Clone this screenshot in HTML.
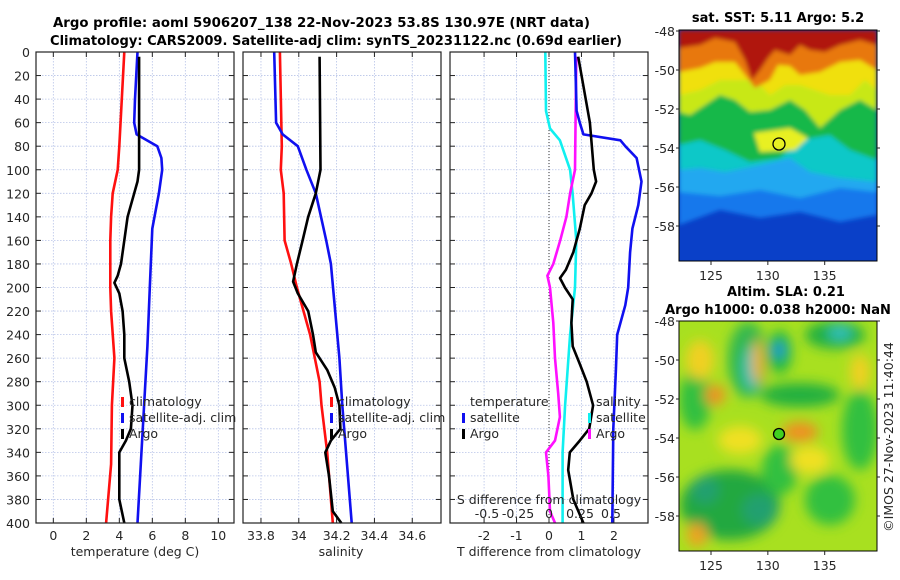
<!DOCTYPE html>
<html><head><meta charset="utf-8"><style>
body{margin:0;background:#fff;}
svg{display:block;font-family:"DejaVu Sans","Liberation Sans",sans-serif;}
.t{font-size:12.5px;fill:#262626;}
.b{font-size:13px;font-weight:bold;fill:#000;}
</style></head><body>
<svg id="fig" width="900" height="580" viewBox="0 0 900 580" xmlns="http://www.w3.org/2000/svg">
<defs>
<filter id="bl" x="-10%" y="-10%" width="120%" height="120%"><feGaussianBlur stdDeviation="2"/></filter>
<filter id="bl2" x="-20%" y="-20%" width="140%" height="140%"><feGaussianBlur stdDeviation="6"/></filter>
<clipPath id="c1"><rect x="679" y="30" width="198" height="231"/></clipPath>
<clipPath id="c2"><rect x="679" y="321" width="198" height="230"/></clipPath>
</defs>
<text class="b" x="53" y="27" textLength="537" lengthAdjust="spacingAndGlyphs">Argo profile: aoml 5906207_138 22-Nov-2023 53.8S 130.97E (NRT data)</text>
<text class="b" x="50" y="45" textLength="572" lengthAdjust="spacingAndGlyphs">Climatology: CARS2009. Satellite-adj clim: synTS_20231122.nc (0.69d earlier)</text>
<g id="panels"></g>

<!-- SST map -->
<text class="b" x="778" y="22" text-anchor="middle">sat. SST: 5.11 Argo: 5.2</text>
<g clip-path="url(#c1)">
<rect x="679" y="30" width="198" height="231" fill="#0a40c8"/>
<g filter="url(#bl)">
<path d="M679 30H877V215L840 222L800 212L760 218L720 210L679 225Z" fill="#1478ec"/>
<path d="M679 30H877V192L840 188L800 198L760 190L720 196L679 192Z" fill="#20a8f0"/>
<path d="M679 30H877V182L840 178L810 172L790 158L760 165L725 172L700 168L679 170Z" fill="#10c8c8"/>
<path d="M679 30H877V160L850 150L830 135L800 140L780 158L750 162L725 150L700 140L679 145Z" fill="#18b848"/>
<path d="M679 30H877V110L860 100L840 110L820 128L805 110L790 100L770 110L750 112L735 100L720 95L705 105L690 115L679 112Z" fill="#c8e818"/>
<path d="M679 30H877V90L865 80L850 95L830 95L815 90L800 85L785 85L770 95L755 80L740 80L720 80L700 90L679 95Z" fill="#f0e010"/>
<path d="M754 133L790 128L808 138L795 150L760 152Z" fill="#e8f020"/>
<path d="M679 30H877V70L860 60L840 62L820 72L800 75L790 66L778 65L770 80L755 88L745 75L735 62L715 62L700 68L679 72Z" fill="#e87810"/>
<path d="M679 30H877V45L860 40L840 45L825 52L810 50L800 45L790 55L775 50L768 58L760 70L752 80L745 60L735 42L715 38L700 45L679 48Z" fill="#b01808"/>
</g>
<circle cx="779" cy="144" r="6" fill="none" stroke="#000" stroke-width="1.3"/>
</g>
<rect x="679" y="30" width="198" height="231" fill="none" stroke="#000" stroke-width="1"/>
<g id="map1axes"></g>

<!-- SLA map -->
<text class="b" x="786" y="296" text-anchor="middle">Altim. SLA: 0.21</text>
<text class="b" x="778" y="314" text-anchor="middle">Argo h1000: 0.038 h2000: NaN</text>
<g clip-path="url(#c2)">
<rect x="679" y="321" width="198" height="230" fill="#a8e020"/>
<g filter="url(#bl2)">
<ellipse cx="748" cy="360" rx="20" ry="38" fill="#30b850"/>
<ellipse cx="752" cy="368" rx="9" ry="22" fill="#30c0c0"/>
<ellipse cx="780" cy="352" rx="12" ry="22" fill="#20b840"/>
<ellipse cx="779" cy="350" rx="6" ry="8" fill="#2090e0"/>
<ellipse cx="835" cy="335" rx="30" ry="14" fill="#20b040"/>
<ellipse cx="840" cy="333" rx="12" ry="7" fill="#30c0c0"/>
<ellipse cx="800" cy="395" rx="40" ry="12" fill="#20b040"/>
<ellipse cx="695" cy="400" rx="16" ry="30" fill="#30c040"/>
<ellipse cx="860" cy="430" rx="18" ry="40" fill="#30c040"/>
<ellipse cx="730" cy="505" rx="50" ry="35" fill="#20a840"/>
<ellipse cx="760" cy="510" rx="18" ry="16" fill="#20a070"/>
<ellipse cx="705" cy="490" rx="14" ry="14" fill="#20a070"/>
<ellipse cx="830" cy="500" rx="25" ry="25" fill="#30c040"/>
<ellipse cx="780" cy="470" rx="18" ry="25" fill="#30c040"/>
<ellipse cx="700" cy="360" rx="14" ry="20" fill="#f0d020"/>
<ellipse cx="715" cy="395" rx="10" ry="10" fill="#f09020"/>
<ellipse cx="758" cy="362" rx="6" ry="22" fill="#f0b020"/>
<ellipse cx="800" cy="432" rx="18" ry="10" fill="#f09020"/>
<ellipse cx="697" cy="535" rx="10" ry="12" fill="#f0a020"/>
<ellipse cx="810" cy="460" rx="20" ry="14" fill="#f0e020"/>
<ellipse cx="740" cy="440" rx="22" ry="14" fill="#f0e020"/>
<ellipse cx="860" cy="372" rx="10" ry="18" fill="#f0d020"/>
</g>
<circle cx="779" cy="434" r="5.5" fill="#40d020" stroke="#000" stroke-width="1.3"/>
</g>
<rect x="679" y="321" width="198" height="230" fill="none" stroke="#000" stroke-width="1"/>
<g id="map2axes"></g>
<text class="t" transform="translate(893,437) rotate(-90)" text-anchor="middle">©IMOS 27-Nov-2023 11:40:44</text>
</svg>
<script>
// ---- data ----
const tClimDepth=[0,40,80,100,120,140,160,200,220,260,300,350,400];
const tClimVal=[4.3,4.15,4.0,3.9,3.6,3.5,3.45,3.45,3.5,3.7,3.55,3.5,3.2];
const tSatDepth=[0,40,60,70,80,90,100,120,150,200,250,300,350,400];
const tSatVal=[5.1,4.95,4.9,5.05,6.3,6.55,6.6,6.4,6.0,5.85,5.7,5.5,5.3,5.1];
const tArgoDepth=[4,60,100,110,120,140,160,180,190,196,205,220,240,260,280,300,320,330,340,360,380,400];
const tArgoVal=[5.2,5.2,5.2,5.1,4.9,4.5,4.3,4.1,3.9,3.7,4.0,4.2,4.3,4.3,4.6,4.8,4.7,4.4,4.0,4.0,4.0,4.3];
const sClimDepth=[0,80,100,120,160,180,200,240,280,300,340,400];
const sClimVal=[33.90,33.91,33.905,33.92,33.925,33.96,33.99,34.06,34.11,34.12,34.15,34.18];
const sSatDepth=[0,60,70,80,100,120,160,180,260,300,400];
const sSatVal=[33.87,33.88,33.915,33.995,34.04,34.09,34.145,34.17,34.215,34.23,34.28];
const sArgoDepth=[4,100,120,140,160,180,195,205,220,240,255,270,285,300,320,330,340,360,390,400];
const sArgoVal=[34.11,34.115,34.09,34.05,34.02,33.99,33.97,33.995,34.05,34.075,34.09,34.15,34.19,34.215,34.22,34.17,34.14,34.16,34.18,34.225];
const dTSatDepth=[0,50,60,70,75,80,90,110,130,150,170,200,215,240,270,320,400];
const dTSatVal=[0.8,0.85,0.95,1.06,2.2,2.35,2.7,2.85,2.75,2.57,2.5,2.44,2.35,2.1,2.06,1.98,1.95];
const dTArgoDepth=[4,60,100,110,120,130,150,170,185,192,200,210,230,250,265,280,300,320,330,340,355,380,400];
const dTArgoVal=[0.9,1.26,1.38,1.45,1.31,1.1,0.95,0.75,0.52,0.34,0.49,0.73,0.69,0.73,0.95,1.16,1.36,1.24,0.95,0.64,0.59,0.75,1.06];
const dSSatDepth=[0,50,65,75,100,120,160,200,240,300,340,400];
const dSSatVal=[-0.03,-0.024,0.008,0.088,0.17,0.19,0.22,0.21,0.17,0.13,0.11,0.11];
const dSArgoDepth=[4,100,120,140,160,180,190,200,230,260,290,310,330,340,360,390,400];
const dSArgoVal=[0.22,0.21,0.17,0.14,0.09,0.035,-0.013,0.008,0.035,0.048,0.074,0.088,0.048,-0.024,-0.005,0.008,0.048];
const depthTicks=[0,20,40,60,80,100,120,140,160,180,200,220,240,260,280,300,320,340,360,380,400];
const tTicks=[0,2,4,6,8,10];
const sTicks=[33.8,34,34.2,34.4,34.6];
const sTickLabels=["33.8","34","34.2","34.4","34.6"];
const dTTicks=[-2,-1,0,1,2];
const dSTicks=[-0.5,-0.25,0,0.25,0.5];
const dSTickLabels=["-0.5","-0.25","0","0.25","0.5"];
const lonTicks=[125,130,135];
const latTicks=[-48,-50,-52,-54,-56,-58];

const NS="http://www.w3.org/2000/svg";
const g=document.getElementById('panels');
function mk(tag,attrs,parent){const e=document.createElementNS(NS,tag);for(const k in attrs)e.setAttribute(k,attrs[k]);(parent||g).appendChild(e);return e;}
const Y0=52,Y1=523;
const yS=d=>Y0+d*(Y1-Y0)/400;
const panels=[
 {x0:36,x1:234,lo:-1.05,hi:10.95,name:'temperature-panel'},
 {x0:243,x1:441,lo:33.705,hi:34.752,name:'salinity-panel'},
 {x0:450,x1:648,lo:-3.05,hi:3.05,name:'difference-panel'}];
function xf(p){return v=>p.x0+(v-p.lo)/(p.hi-p.lo)*(p.x1-p.x0);}
const xT=xf(panels[0]),xS=xf(panels[1]),xD=xf(panels[2]);
const xDS=v=>xD(0)+v*(xD(1)-xD(0))*3.82;

function grid(p,xs,ticks){
 ticks.forEach(v=>{const l=mk('line',{x1:xs(v),x2:xs(v),y1:Y0,y2:Y1,stroke:'#b8c4e8','stroke-width':0.8,'stroke-dasharray':'1.5,1.5'});
 
 });
 depthTicks.forEach(d=>{const l=mk('line',{x1:p.x0,x2:p.x1,y1:yS(d),y2:yS(d),stroke:'#b8c4e8','stroke-width':0.8,'stroke-dasharray':'1.5,1.5'});
 
 
 mk('line',{x1:p.x0,x2:p.x0+5,y1:yS(d),y2:yS(d),stroke:'#222'});
 mk('line',{x1:p.x1,x2:p.x1-5,y1:yS(d),y2:yS(d),stroke:'#222'});});
 ticks.forEach(v=>{mk('line',{x1:xs(v),x2:xs(v),y1:Y1,y2:Y1-5,stroke:'#222'});mk('line',{x1:xs(v),x2:xs(v),y1:Y0,y2:Y0+5,stroke:'#222'});});
}
function frame(p){const r=mk('rect',{x:p.x0,y:Y0,width:p.x1-p.x0,height:Y1-Y0,fill:'none',stroke:'#222','stroke-width':1.2});
 
 }
function line(xs,D,V,color,name){
 const pts=D.map((d,i)=>xs(V[i]).toFixed(1)+','+yS(d).toFixed(1)).join(' ');
 const l=mk('polyline',{points:pts,fill:'none',stroke:color,'stroke-width':2.6,'stroke-linejoin':'round'});
 
 }
function txt(x,y,s,anchor,name,extra){const t=mk('text',Object.assign({x:x,y:y,'class':'t','text-anchor':anchor||'middle'},extra||{}));t.textContent=s;
 
 return t;}

grid(panels[0],xT,tTicks);grid(panels[1],xS,sTicks);grid(panels[2],xD,dTTicks);
mk('line',{x1:xD(0),x2:xD(0),y1:Y0,y2:Y1,stroke:'#333','stroke-width':1,'stroke-dasharray':'1,2'});

line(xT,tClimDepth,tClimVal,'#ff1010','temp-climatology-line');
line(xT,tSatDepth,tSatVal,'#1010f0','temp-satellite-line');
line(xT,tArgoDepth,tArgoVal,'#000','temp-argo-line');
line(xS,sClimDepth,sClimVal,'#ff1010','sal-climatology-line');
line(xS,sSatDepth,sSatVal,'#1010f0','sal-satellite-line');
line(xS,sArgoDepth,sArgoVal,'#000','sal-argo-line');
line(xDS,dSSatDepth,dSSatVal,'#10f0f0','sdiff-satellite-line');
line(xDS,dSArgoDepth,dSArgoVal,'#ff10ff','sdiff-argo-line');
line(xD,dTSatDepth,dTSatVal,'#1010f0','tdiff-satellite-line');
line(xD,dTArgoDepth,dTArgoVal,'#000','tdiff-argo-line');
panels.forEach(frame);

depthTicks.forEach(d=>txt(30,yS(d)+5,String(d),'end','depth-tick-label'));
tTicks.forEach(v=>txt(xT(v),Y1+17,String(v),'middle','temp-tick-label'));
sTicks.forEach((v,i)=>txt(xS(v),Y1+17,sTickLabels[i],'middle','sal-tick-label'));
dTTicks.forEach(v=>txt(xD(v),Y1+17,String(v),'middle','tdiff-tick-label'));
dSTicks.forEach((v,i)=>txt(xDS(v),518,dSTickLabels[i],'middle','sdiff-tick-label'));
txt(135,556,'temperature (deg C)','middle','temp-axis-title');
txt(341,556,'salinity','middle','sal-axis-title');
txt(549,556,'T difference from climatology','middle','tdiff-axis-title');
txt(549,504,'S difference from climatology','middle','sdiff-axis-title');

function legend(x,y,color,label,name){
 mk('rect',{x:x,y:y-9,width:3,height:10,fill:color});
 txt(x+8,y,label,'start',name);}
legend(121,406,'#ff1010','climatology','legend-climatology');
legend(121,422,'#1010f0','satellite-adj. clim','legend-satellite');
legend(121,438,'#000','Argo','legend-argo');
legend(330,406,'#ff1010','climatology','legend-climatology-sal');
legend(330,422,'#1010f0','satellite-adj. clim','legend-satellite-sal');
legend(330,438,'#000','Argo','legend-argo-sal');
txt(470,406,'temperature','start','legend-temperature-header');
legend(462,422,'#1010f0','satellite','legend-tdiff-satellite');
legend(462,438,'#000','Argo','legend-tdiff-argo');
txt(596,406,'salinity','start','legend-salinity-header');
legend(588,422,'#10f0f0','satellite','legend-sdiff-satellite');
legend(588,438,'#ff10ff','Argo','legend-sdiff-argo');

// map axes
function mapAxes(gid,x0,x1,y0,y1,lat48){
 const gg=document.getElementById(gid);
 const lx=v=>711+(v-125)*11.37;
 const ly=v=>lat48+(-48-v)*19.5;
 lonTicks.forEach(v=>{mk('line',{x1:lx(v),x2:lx(v),y1:y1,y2:y1+4,stroke:'#222'},gg);
  const t=mk('text',{x:lx(v),y:y1+19,'class':'t','text-anchor':'middle'},gg);t.textContent=String(v);
  
  });
 latTicks.forEach(v=>{mk('line',{x1:x0-3,x2:x0,y1:ly(v),y2:ly(v),stroke:'#222'},gg);
  mk('line',{x1:x1,x2:x1+3,y1:ly(v),y2:ly(v),stroke:'#222'},gg);
  const t=mk('text',{x:x0-4,y:ly(v)+5,'class':'t','text-anchor':'end'},gg);t.textContent=String(v);
  
  });
}
mapAxes('map1axes',679,877,30,261,31);
mapAxes('map2axes',679,877,321,551,321);
</script>
</body></html>
